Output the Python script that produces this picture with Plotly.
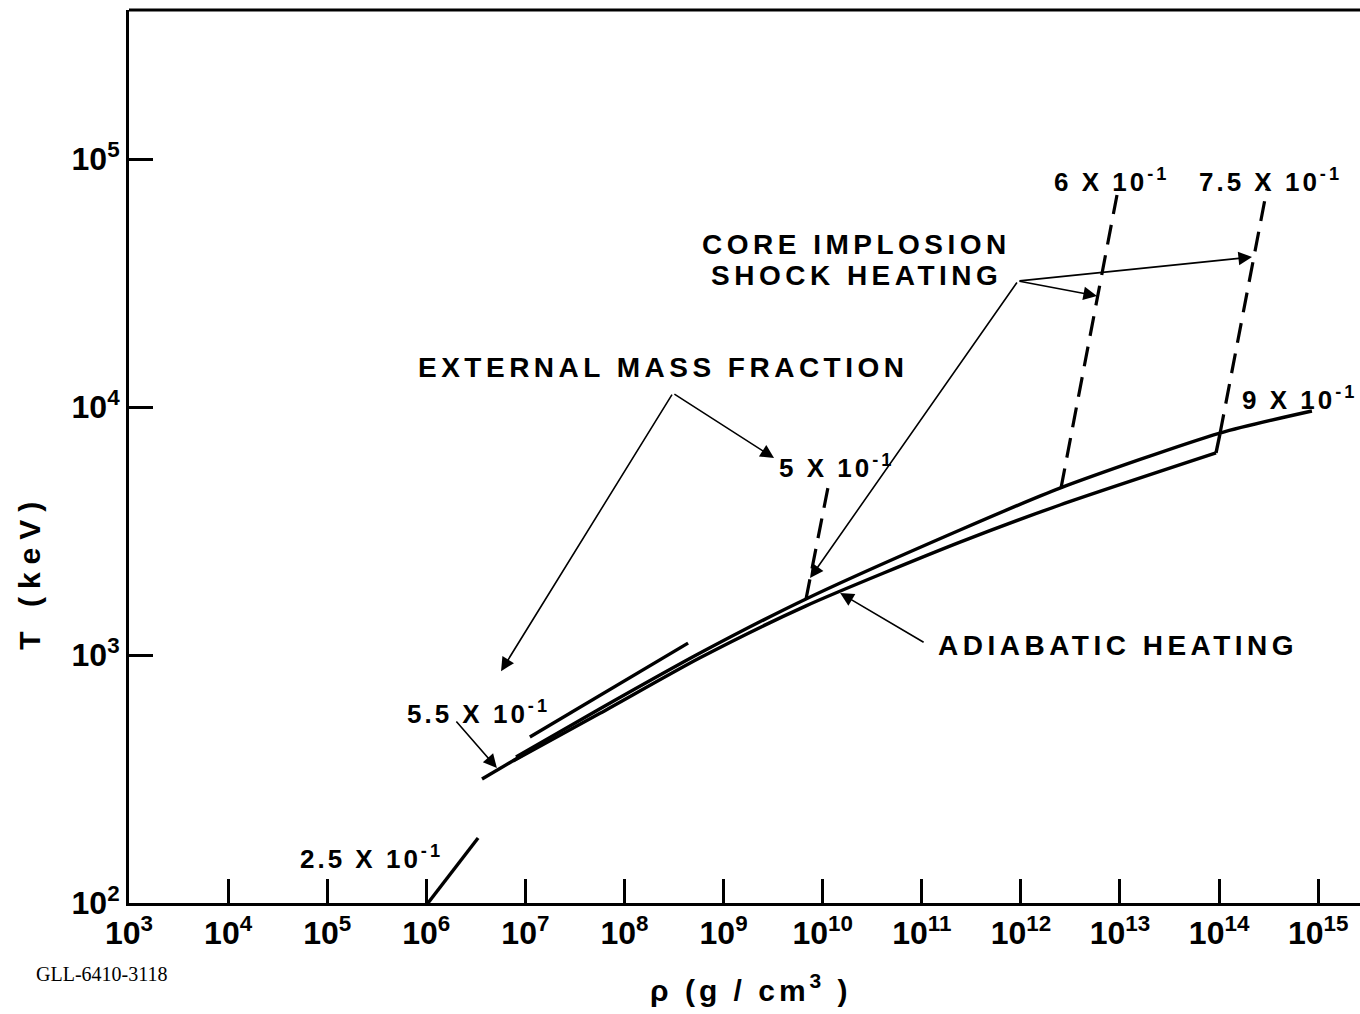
import numpy as np
import plotly.graph_objects as go

# ---- density rho (g/cm^3) and temperature T (keV) along each path ----
rho_adiabatic = [7.5e6, 5.66e7, 5.78e8, 6.79e9, 2.43e11, 2.48e12, 9.31e13]
T_adiabatic = [374, 582, 975, 1578, 2851, 4027, 6531]
# short jump joining the adiabat to the 0.9 curve
rho_adiabatic_end = [9.31e13, 1.02e14]
T_adiabatic_end = [6531, 7780]

rho_f090 = [8.04e6, 5.66e7, 5.78e8, 6.79e9, 2.43e11, 2.48e12, 1.02e14, 8.65e14]
T_f090 = [388, 607, 1018, 1683, 3192, 4710, 7852, 9638]

rho_f055 = [3.65e6, 8.04e6, 1.40e7]
T_f055 = [316, 381, 434]

rho_f050_adiabat = [1.11e7, 4.38e8]
T_f050_adiabat = [467, 1117]

rho_f025 = [1.04e6, 3.33e6]
T_f025 = [100, 183]

# shock-heating branches (dashed)
rho_shock_050 = [6.79e9, 1.16e10]
T_shock_050 = [1683, 4990]
rho_shock_060 = [2.54e12, 9.33e12]
T_shock_060 = [4710, 71600]
rho_shock_075 = [1.02e14, 3.04e14]
T_shock_075 = [7780, 75700]

# axis ticks
x_tick_exponents = list(range(3, 16))
y_tick_exponents = [2, 3, 4, 5]

# curve labels: text, rho, T
fraction_labels = [
    ("2.5 X 10<sup>-1</sup>", 2.83e5, 152),
    ("5.5 X 10<sup>-1</sup>", 3.40e6, 589),
    ("5 X 10<sup>-1</sup>", 1.39e10, 5780),
    ("6 X 10<sup>-1</sup>", 8.30e12, 82200),
    ("7.5 X 10<sup>-1</sup>", 3.27e14, 82200),
    ("9 X 10<sup>-1</sup>", 6.55e14, 10860),
]
heading_labels = [
    ("EXTERNAL MASS FRACTION", 2.48e8, 14490),
    ("CORE IMPLOSION", 2.17e10, 45200),
    ("SHOCK HEATING", 2.17e10, 33960),
    ("ADIABATIC HEATING", 9.44e12, 1096),
]
# pointer arrows: (tail rho, tail T, tip rho, tip T)
pointers = [
    (3.08e8, 11380, 5.68e6, 861),
    (3.08e8, 11380, 3.23e9, 6223),
    (9.35e11, 32210, 2.15e14, 40270),
    (9.35e11, 32210, 5.86e12, 28050),
    (9.35e11, 32210, 7.45e9, 2042),
    (1.08e11, 1117, 1.50e10, 1778),
    (1.95e6, 547, 5.16e6, 350),
]

FONT = "Liberation Sans, Arial, sans-serif"
INK = "black"

fig = go.Figure()


def solid(x, y, spline=False):
    fig.add_trace(go.Scatter(
        x=x, y=y, mode="lines",
        line=dict(color=INK, width=3.4, shape="spline" if spline else "linear",
                  smoothing=0.7),
        hoverinfo="skip", showlegend=False))


def dashed(x, y):
    fig.add_trace(go.Scatter(
        x=x, y=y, mode="lines",
        line=dict(color=INK, width=3.2, dash="20px,11px"),
        hoverinfo="skip", showlegend=False))


solid(rho_adiabatic, T_adiabatic, spline=True)
solid(rho_adiabatic_end, T_adiabatic_end)
solid(rho_f090, T_f090, spline=True)
solid(rho_f055, T_f055)
solid(rho_f050_adiabat, T_f050_adiabat)
solid(rho_f025, T_f025)
dashed(rho_shock_050, T_shock_050)
dashed(rho_shock_060, T_shock_060)
dashed(rho_shock_075, T_shock_075)

annotations = []
for text, r, t in fraction_labels:
    annotations.append(dict(
        x=np.log10(r), y=np.log10(t), xref="x", yref="y",
        text=f'<span style="letter-spacing:3px">{text}</span>',
        showarrow=False, xanchor="center", yanchor="middle",
        font=dict(family=FONT, size=26, color=INK, weight="bold")))
for text, r, t in heading_labels:
    annotations.append(dict(
        x=np.log10(r), y=np.log10(t), xref="x", yref="y",
        text=f'<span style="letter-spacing:4.5px">{text}</span>',
        showarrow=False, xanchor="center", yanchor="middle", align="center",
        font=dict(family=FONT, size=28, color=INK, weight="bold")))
for r0, t0, r1, t1 in pointers:
    annotations.append(dict(
        x=np.log10(r1), y=np.log10(t1), xref="x", yref="y",
        ax=np.log10(r0), ay=np.log10(t0), axref="x", ayref="y",
        text="", showarrow=True, arrowhead=2, arrowsize=1.7,
        arrowwidth=1.6, arrowcolor=INK, standoff=0, startstandoff=0))

# axis titles
annotations.append(dict(
    x=-0.0804, y=0.371, xref="paper", yref="paper", textangle=-90,
    text='<span style="letter-spacing:8px">T (keV)</span>',
    showarrow=False, xanchor="center", yanchor="middle",
    font=dict(family=FONT, size=30, color=INK, weight="bold")))
annotations.append(dict(
    x=0.505, y=-0.095, xref="paper", yref="paper",
    text='<span style="letter-spacing:4px">ρ (g / cm<sup>3</sup> )</span>',
    showarrow=False, xanchor="center", yanchor="middle",
    font=dict(family=FONT, size=30, color=INK, weight="bold")))

annotations.append(dict(
    x=-0.077, y=-0.08, xref="paper", yref="paper",
    text="GLL-6410-3118", showarrow=False, xanchor="left", yanchor="middle",
    font=dict(family="Liberation Serif, serif", size=20, color=INK)))

fig.update_layout(
    width=1360, height=1014,
    margin=dict(l=129, r=0, t=10, b=111),
    paper_bgcolor="white", plot_bgcolor="white",
    showlegend=False,
    annotations=annotations,
    shapes=[dict(type="line", xref="paper", yref="paper", x0=0, x1=1, y0=1, y1=1,
                 line=dict(color=INK, width=3))],
    xaxis=dict(
        type="log", range=[3, 15.422],
        tickvals=[10 ** e for e in x_tick_exponents],
        ticktext=[f"10<sup>{e}</sup>" for e in x_tick_exponents],
        ticks="inside", ticklen=24, tickwidth=2.5, tickcolor=INK,
        showline=True, linewidth=3, linecolor=INK,
        showgrid=False, zeroline=False,
        tickfont=dict(family=FONT, size=32, color=INK, weight="bold"),
    ),
    yaxis=dict(
        type="log", range=[2, 5.601],
        tickvals=[10 ** e for e in y_tick_exponents],
        ticktext=[f"10<sup>{e}</sup>" for e in y_tick_exponents],
        ticks="inside", ticklen=24, tickwidth=2.5, tickcolor=INK,
        showline=True, linewidth=3, linecolor=INK,
        showgrid=False, zeroline=False,
        tickfont=dict(family=FONT, size=32, color=INK, weight="bold"),
    ),
)

fig.write_html("out.html")
